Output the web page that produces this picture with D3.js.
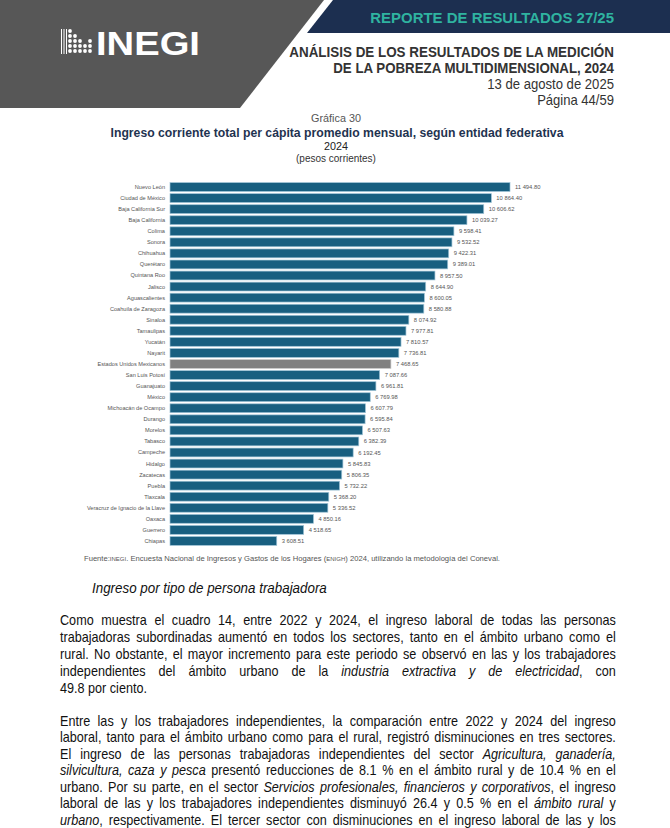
<!DOCTYPE html>
<html>
<head>
<meta charset="utf-8">
<script src="https://cdn.jsdelivr.net/npm/d3@7/dist/d3.min.js"></script>
<style>
html,body{margin:0;padding:0;background:#fff;}
svg{display:block;}
</style>
</head>
<body>
<svg id="page" width="670" height="828"></svg>
<script>
// ---------- DATA ----------
const states = ["Nuevo León","Ciudad de México","Baja California Sur","Baja California","Colima","Sonora","Chihuahua","Querétaro","Quintana Roo","Jalisco","Aguascalientes","Coahuila de Zaragoza","Sinaloa","Tamaulipas","Yucatán","Nayarit","Estados Unidos Mexicanos","San Luis Potosí","Guanajuato","México","Michoacán de Ocampo","Durango","Morelos","Tabasco","Campeche","Hidalgo","Zacatecas","Puebla","Tlaxcala","Veracruz de Ignacio de la Llave","Oaxaca","Guerrero","Chiapas"];
const incomes = [11494.80,10864.40,10606.62,10039.27,9598.41,9532.52,9422.31,9389.01,8957.50,8644.90,8600.05,8580.88,8074.92,7977.81,7810.57,7736.81,7468.65,7087.66,6961.81,6769.98,6607.79,6595.84,6507.63,6382.39,6192.45,5845.83,5806.35,5732.22,5368.20,5336.52,4850.16,4518.65,3608.51];
const nationalLabel = "Estados Unidos Mexicanos";

const headerLines = ["ANÁLISIS DE LOS RESULTADOS DE LA MEDICIÓN","DE LA POBREZA MULTIDIMENSIONAL, 2024","13 de agosto de 2025","Página 44/59"];
const chartTitle = ["Gráfica 30","Ingreso corriente total per cápita promedio mensual, según entidad federativa","2024","(pesos corrientes)"];

// paragraph lines: [segments, justified]; segment = [text, italic]
const para1 = [
 [[["Como muestra el cuadro 14, entre 2022 y 2024, el ingreso laboral de todas las personas",0]],1],
 [[["trabajadoras subordinadas aumentó en todos los sectores, tanto en el ámbito urbano como el",0]],1],
 [[["rural. No obstante, el mayor incremento para este periodo se observó en las y los trabajadores",0]],1],
 [[["independientes del ámbito urbano de la ",0],["industria extractiva y de electricidad",1],[", con",0]],1],
 [[["49.8 por ciento.",0]],0]
];
const para2 = [
 [[["Entre las y los trabajadores independientes, la comparación entre 2022 y 2024 del ingreso",0]],1],
 [[["laboral, tanto para el ámbito urbano como para el rural, registró disminuciones en tres sectores.",0]],1],
 [[["El ingreso de las personas trabajadoras independientes del sector ",0],["Agricultura, ganadería,",1]],1],
 [[["silvicultura, caza y pesca",1],[" presentó reducciones de 8.1 % en el ámbito rural y de 10.4 % en el",0]],1],
 [[["urbano. Por su parte, en el sector ",0],["Servicios profesionales, financieros y corporativos",1],[", el ingreso",0]],1],
 [[["laboral de las y los trabajadores independientes disminuyó 26.4 y 0.5 % en el ",0],["ámbito rural",1],[" y",0]],1],
 [[["urbano",1],[", respectivamente. El tercer sector con disminuciones en el ingreso laboral de las y los",0]],1]
];

// ---------- DRAW ----------
const svg = d3.select("#page");
const SANS = "'Liberation Sans',Arial,Helvetica,sans-serif";

// horizontally scale a text (around its anchor x) so that it spans w pixels
function fit(sel, w){
  const n = sel.node();
  const nat = n.getComputedTextLength();
  const ax = +sel.attr("x");
  const s = w/nat;
  sel.attr("transform",`translate(${ax},0) scale(${s.toFixed(4)},1) translate(${-ax},0)`);
}

// header shapes
svg.append("polygon").attr("points","0,0 324,0 240,108 0,108").attr("fill","#575757");
svg.append("polygon").attr("points","333,0 670,0 670,33 307,33").attr("fill","#1c2f50");
svg.append("text").attr("x",614).attr("y",23).attr("text-anchor","end")
  .attr("font-family",SANS).attr("font-weight","bold").attr("font-size",14.5)
  .attr("fill","#2fb3a0").text("REPORTE DE RESULTADOS 27/25").call(fit,244);

// INEGI logo
const logo = svg.append("g").attr("fill","#fff");
[61,63.5,66].forEach(x=>logo.append("rect").attr("x",x).attr("y",29).attr("width",1).attr("height",25));
const dotCols = [[70,[31,36,41,46,51]],[75,[36,41,46,51]],[80,[41,46,51]],[85,[46,51]],[90,[41,46,51]]];
dotCols.forEach(([x,ys])=>ys.forEach(y=>logo.append("circle").attr("cx",x).attr("cy",y).attr("r",1.9)));
svg.append("text").attr("x",96).attr("y",55).attr("font-family",SANS).attr("font-weight","bold")
  .attr("font-size",34).attr("fill","#fff").text("INEGI").call(fit,104);

// header right text
const hy=[57,73,89,105], hw=[325,281,127,77];
headerLines.forEach((t,i)=>{
  svg.append("text").attr("x",614).attr("y",hy[i]).attr("text-anchor","end")
    .attr("font-family",SANS).attr("font-weight",i<2?"bold":"normal").attr("font-size",14)
    .attr("fill","#333").text(t).call(fit,hw[i]);
});

// chart title
const ty=[122,137,150,162], ts=[11,12.5,11,10], tw=[50,453,24,80], tc=["#555","#1f3350","#222","#333"];
chartTitle.forEach((t,i)=>{
  svg.append("text").attr("x",i==1?337:336).attr("y",ty[i]).attr("text-anchor","middle")
    .attr("font-family",SANS).attr("font-weight",i==1?"bold":"normal").attr("font-size",ts[i])
    .attr("fill",tc[i]).text(t).call(fit,tw[i]);
});

// bar chart
const x = d3.scaleLinear().domain([0,11494.80]).range([170,510]);
const y = d3.scaleBand().domain(states).range([181.5,546.5]).paddingInner(0.2).paddingOuter(0.1);
const fmt = v => d3.format(",.2f")(v).replace(/,/g," ");
const rows = states.map((s,i)=>({s, v:incomes[i]}));
const g = svg.append("g");
g.selectAll("rect.bar").data(rows).join("rect").attr("class","bar")
  .attr("x",x(0)).attr("y",d=>y(d.s)).attr("width",d=>x(d.v)-x(0)).attr("height",y.bandwidth())
  .attr("fill",d=>d.s===nationalLabel?"#808080":"#185f80")
  .attr("stroke",d=>d.s===nationalLabel?"#c8c8c8":"#9fc4d6").attr("stroke-width",0.7);
g.selectAll("text.lab").data(rows).join("text").attr("class","lab")
  .attr("x",165).attr("y",d=>y(d.s)+y.bandwidth()/2).attr("dy","0.35em").attr("text-anchor","end")
  .attr("font-family",SANS).attr("font-size",5.6).attr("fill","#555").text(d=>d.s);
g.selectAll("text.val").data(rows).join("text").attr("class","val")
  .attr("x",d=>x(d.v)+5).attr("y",d=>y(d.s)+y.bandwidth()/2).attr("dy","0.35em")
  .attr("font-family",SANS).attr("font-size",5.8).attr("fill","#555").text(d=>fmt(d.v));

// footnote
const fn = svg.append("text").attr("x",84).attr("y",561).attr("font-family",SANS).attr("font-size",7.6).attr("fill","#555");
fn.append("tspan").text("Fuente:");
fn.append("tspan").attr("font-size",6).text("INEGI");
fn.append("tspan").text(". Encuesta Nacional de Ingresos y Gastos de los Hogares (");
fn.append("tspan").attr("font-size",6).text("ENIGH");
fn.append("tspan").text(") 2024, utilizando la metodología del Coneval.");
fn.call(fit,416);

// subtitle
svg.append("text").attr("x",92).attr("y",593).attr("font-family",SANS).attr("font-style","italic")
  .attr("font-size",14.5).attr("fill","#111").text("Ingreso por tipo de persona trabajadora").call(fit,235);

// paragraphs (narrow look: scale glyphs horizontally, justify with word spacing)
const LEFT=60, WIDTH=556, NARROWF=0.865;
function drawPara(lines, y0, lh){
  lines.forEach(([segs,just],i)=>{
    const t = svg.append("text").attr("x",LEFT).attr("y",y0+i*lh)
      .attr("font-family",SANS).attr("font-size",14.6).attr("fill","#111");
    segs.forEach(([s,it])=>t.append("tspan").attr("font-style",it?"italic":"normal").text(s));
    const nat = t.node().getComputedTextLength();
    const full = segs.map(d=>d[0]).join("");
    const spaces = (full.match(/ /g)||[]).length;
    let sx = NARROWF;
    if(just){
      const target = WIDTH/sx;
      if(nat<target && spaces>0){
        t.attr("word-spacing",((target-nat)/spaces).toFixed(3));
      } else {
        sx = WIDTH/nat;
      }
    }
    t.attr("transform",`translate(${LEFT},0) scale(${sx.toFixed(4)},1) translate(${-LEFT},0)`);
  });
}
drawPara(para1,625,16.9);
drawPara(para2,726,16.5);
</script>
</body>
</html>
